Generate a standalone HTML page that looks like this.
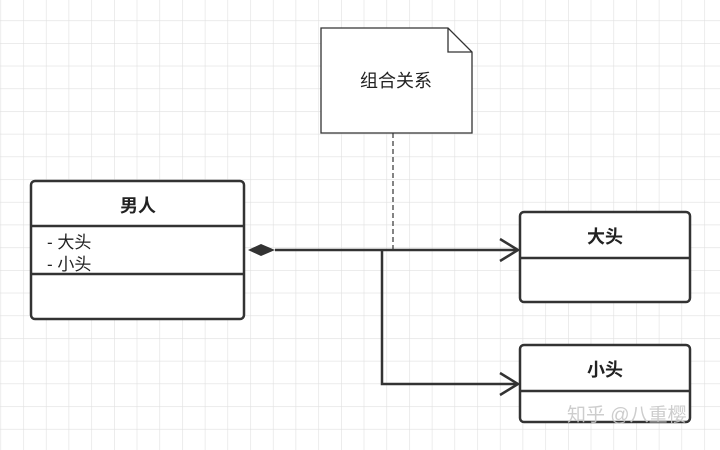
<!DOCTYPE html>
<html><head><meta charset="utf-8"><style>
html,body{margin:0;padding:0;background:#fff;width:720px;height:450px;overflow:hidden}
text{font-family:"Liberation Sans","Noto Sans CJK SC",sans-serif;fill:#222}
</style></head><body>
<svg width="720" height="450" viewBox="0 0 720 450" xmlns="http://www.w3.org/2000/svg">
<defs>
<pattern id="g" width="22.7" height="22.7" patternUnits="userSpaceOnUse" x="0.5" y="-2.4">
<path d="M0 0H22.7M0 0V22.7" stroke="#e0e0e0" stroke-width="1.2" fill="none"/>
</pattern>
</defs>
<rect width="720" height="450" fill="url(#g)"/>
<path d="M321 28H448L472 52V133H321Z" fill="#fff" stroke="#333" stroke-width="1.3"/>
<path d="M448 28V52H472" fill="none" stroke="#333" stroke-width="1.3"/>
<text x="396" y="87" font-size="18" text-anchor="middle">组合关系</text>
<line x1="393" y1="133" x2="393" y2="250" stroke="#333" stroke-width="1.2" stroke-dasharray="5,3"/>
<rect x="31" y="181" width="213" height="138" rx="4" fill="#fff" stroke="#333" stroke-width="2.5"/>
<line x1="31" y1="226" x2="244" y2="226" stroke="#333" stroke-width="2.5"/>
<line x1="31" y1="274" x2="244" y2="274" stroke="#333" stroke-width="2.5"/>
<text x="138" y="212" font-size="18" font-weight="bold" text-anchor="middle">男人</text>
<text x="47" y="248" font-size="17">- 大头</text>
<text x="47" y="270" font-size="17">- 小头</text>
<path d="M248 250L261 244L275 250L261 256Z" fill="#333"/>
<path d="M275 250H517M382 250V384H517" fill="none" stroke="#333" stroke-width="2.5"/>
<path d="M500 239L518 250L500 261M500 373L518 384L500 395" fill="none" stroke="#333" stroke-width="2.5"/>
<rect x="520" y="212" width="170" height="90" rx="4" fill="#fff" stroke="#333" stroke-width="2.5"/>
<line x1="520" y1="258" x2="690" y2="258" stroke="#333" stroke-width="2.5"/>
<text x="605" y="243" font-size="18" font-weight="bold" text-anchor="middle">大头</text>
<rect x="520" y="345" width="170" height="77" rx="4" fill="#fff" stroke="#333" stroke-width="2.5"/>
<line x1="520" y1="391" x2="690" y2="391" stroke="#333" stroke-width="2.5"/>
<text x="605" y="376" font-size="18" font-weight="bold" text-anchor="middle">小头</text>
<text x="567" y="421" font-size="19" style="fill:#c8c8c8" opacity="0.9">知乎 @八重樱</text>
</svg>
</body></html>
